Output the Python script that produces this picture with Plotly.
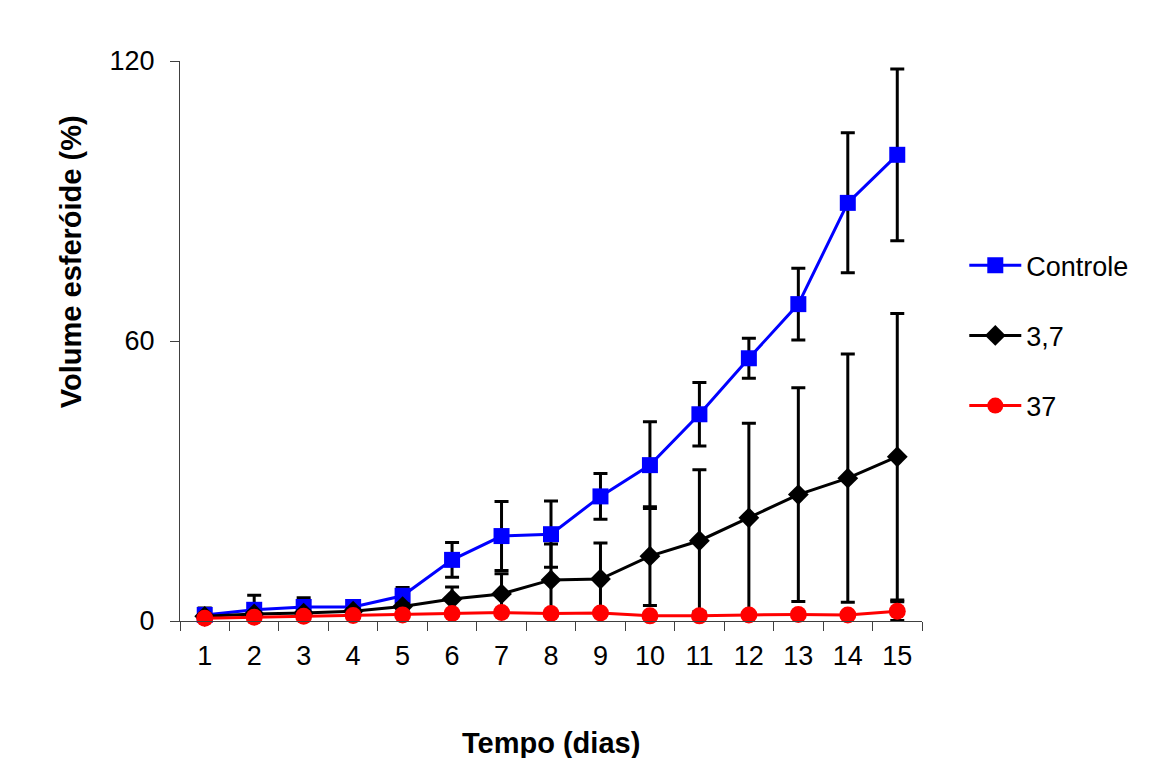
import plotly.graph_objects as go

dias = list(range(1, 16))
tick_labels = [str(d) for d in dias]

controle = [1.3, 2.4, 3.0, 3.0, 5.4, 13.1, 18.2, 18.6, 26.7, 33.4, 44.3, 56.3, 67.9, 89.6, 99.9]
controle_err = [1.5, 3.1, 2.0, 0.6, 1.8, 3.7, 7.4, 7.1, 4.9, 9.3, 6.8, 4.3, 7.7, 15.0, 18.4]

s37b = [1.0, 1.5, 1.7, 2.1, 3.1, 4.7, 5.8, 8.8, 9.0, 13.9, 17.2, 22.1, 27.1, 30.6, 35.2]
s37b_err = [0.4, 0.5, 0.5, 0.5, 0.6, 2.6, 4.3, 7.7, 7.7, 10.6, 15.2, 20.3, 22.9, 26.6, 30.7]

s37 = [0.6, 0.8, 1.0, 1.2, 1.3, 1.6, 1.8, 1.6, 1.7, 1.1, 1.1, 1.3, 1.4, 1.3, 2.1]
s37_err = [0.3, 0.3, 0.3, 0.3, 0.3, 0.4, 0.4, 0.4, 0.4, 0.4, 0.4, 0.5, 0.5, 0.5, 2.0]

series = [
    ("Controle", controle, controle_err, "#0000FF", "square", 16),
    ("3,7", s37b, s37b_err, "#000000", "diamond", 16),
    ("37", s37, s37_err, "#FF0000", "circle", 17),
]

fig = go.Figure()
for i, (name, y, err, color, sym, size) in enumerate(series):
    fig.add_trace(go.Scatter(
        x=dias, y=y, name=name, mode="lines+markers",
        line=dict(color=color, width=3),
        marker=dict(color=color, symbol=sym, size=size, line=dict(width=0)),
        error_y=dict(type="data", array=err, visible=True, color="#000000",
                     thickness=3, width=7),
        cliponaxis=False, legendgroup=f"g{i}",
    ))

axis_color = "#404040"
fig.update_layout(
    width=1171, height=758,
    margin=dict(l=172, r=257, t=53, b=145),
    paper_bgcolor="white", plot_bgcolor="white",
    font=dict(family="Liberation Sans, Arial, sans-serif", size=27, color="black"),
    showlegend=True,
    legend=dict(x=1.057, xanchor="left", y=0.678, yanchor="top",
                font=dict(size=27), traceorder="grouped", tracegroupgap=32,
                itemwidth=52, bgcolor="rgba(0,0,0,0)"),
    xaxis=dict(
        range=[0.5, 15.5], tickmode="array", tickvals=dias, ticktext=tick_labels,
        ticks="", showgrid=False, zeroline=False, showline=True,
        linecolor=axis_color, linewidth=1.2, ticklabelstandoff=10,
        minor=dict(tickmode="array", tickvals=[d + 0.5 for d in range(0, 16)],
                   ticks="outside", ticklen=9, tickcolor=axis_color, tickwidth=1.2,
                   showgrid=False),
        tickfont=dict(size=27),
    ),
    yaxis=dict(
        range=[0, 120], tickmode="array", tickvals=[0, 60, 120],
        ticks="outside", ticklen=9, tickcolor=axis_color, tickwidth=1.2,
        showgrid=False, zeroline=False, showline=True,
        linecolor=axis_color, linewidth=1.2, ticklabelstandoff=10,
        tickfont=dict(size=27),
    ),
    annotations=[
        dict(text="<b>Tempo (dias)</b>", xref="paper", yref="paper",
             x=0.5, y=-0.218, xanchor="center", yanchor="middle",
             showarrow=False, font=dict(size=29)),
        dict(text="<b>Volume esferóide (%)</b>", xref="paper", yref="paper",
             x=-0.146, y=0.642, xanchor="center", yanchor="middle",
             textangle=-90, showarrow=False, font=dict(size=29)),
    ],
)

fig.write_html("out.html")
